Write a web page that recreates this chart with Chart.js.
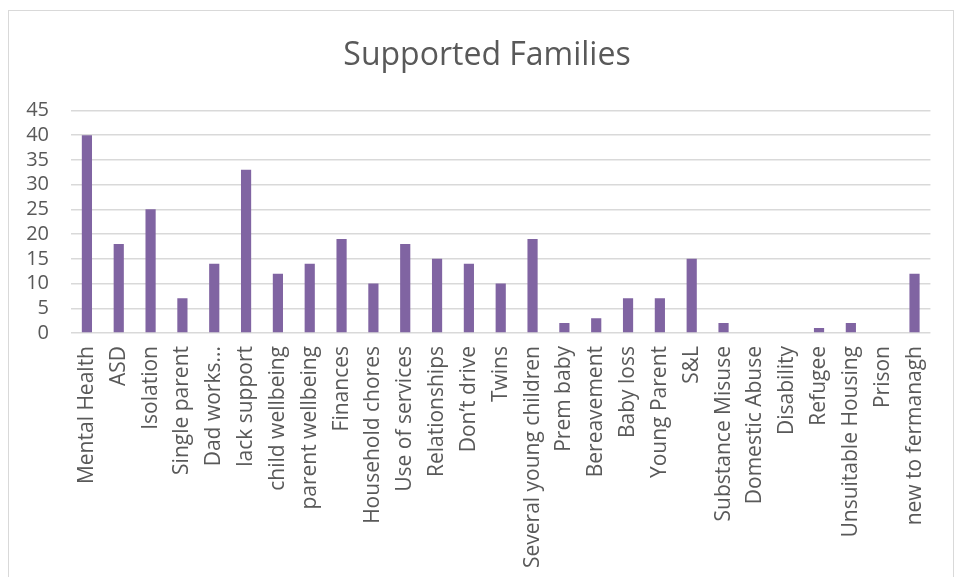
<!DOCTYPE html>
<html>
<head>
<meta charset="utf-8">
<script src="https://cdn.jsdelivr.net/npm/chart.js@4"></script>
<style>
    body { margin: 0; background: #fff; overflow: hidden; }
    #box {
        position: absolute; left: 8px; top: 10px;
        width: 944px; height: 590px;
        border: 1px solid #d9d9d9;
    }
</style>
</head>
<body>
<div id="box"><canvas id="barChart" width="944" height="590"></canvas></div>
<script>
let categories = ['Mental Health', 'ASD', 'Isolation', 'Single parent', 'Dad works...', 'lack support',
    'child wellbeing', 'parent wellbeing', 'Finances', 'Household chores', 'Use of services',
    'Relationships', 'Don\u2019t drive', 'Twins', 'Several young children', 'Prem baby', 'Bereavement',
    'Baby loss', 'Young Parent', 'S&L', 'Substance Misuse', 'Domestic Abuse', 'Disability', 'Refugee',
    'Unsuitable Housing', 'Prison', 'new to fermanagh'];
let counts = [40, 18, 25, 7, 14, 33, 12, 14, 19, 10, 18, 15, 14, 10, 19, 2, 3, 7, 7, 15, 2, 0, 0, 1, 2, 0, 12];
let yTicks = [0, 5, 10, 15, 20, 25, 30, 35, 40, 45];

window.onload = function () {
    barChartDraw();
}

let barChartDraw = function () {
    let painter = document.getElementById('barChart').getContext('2d');
    window.barChart = new Chart(painter, {
        type: 'bar',
        data: {
            labels: categories,
            datasets: [{
                data: counts,
                backgroundColor: '#8064A2',
                barPercentage: 0.32,
                categoryPercentage: 1.0,
            }]
        },
        options: {
            responsive: false,
            animation: false,
            layout: { padding: { left: 14, right: 2, top: 0, bottom: 0 } },
            scales: {
                x: {
                    grid: { display: false, drawTicks: false },
                    border: { display: false },
                    ticks: {
                        autoSkip: false,
                        minRotation: 90,
                        maxRotation: 90,
                        padding: 13,
                        color: '#595959',
                        font: { family: 'Open Sans', size: 21 },
                    },
                    afterFit: function (axis) { axis.height = 268; },
                },
                y: {
                    min: 0,
                    max: 45,
                    afterBuildTicks: function (axis) {
                        axis.ticks = yTicks.map(v => ({ value: v }));
                    },
                    grid: { color: '#d9d9d9', lineWidth: 1.5, drawTicks: false },
                    border: { display: false },
                    ticks: {
                        autoSkip: false,
                        padding: 22,
                        color: '#595959',
                        font: { family: 'Open Sans', size: 20, lineHeight: 1 },
                    },
                    afterFit: function (axis) { axis.width = 48; },
                },
                // empty right axis, only a spacer so the title sits like the original
                yRight: {
                    position: 'right',
                    grid: { display: false, drawTicks: false },
                    border: { display: false },
                    ticks: { display: false },
                    afterFit: function (axis) { axis.width = 13; },
                },
            },
            plugins: {
                legend: { display: false },
                tooltip: { enabled: false },
                title: {
                    display: true,
                    text: 'Supported Families',
                    color: '#595959',
                    font: { family: 'Open Sans', size: 32, weight: 'normal' },
                    padding: { top: 26, bottom: 35 },
                },
            },
        },
    });
};
</script>
</body>
</html>
